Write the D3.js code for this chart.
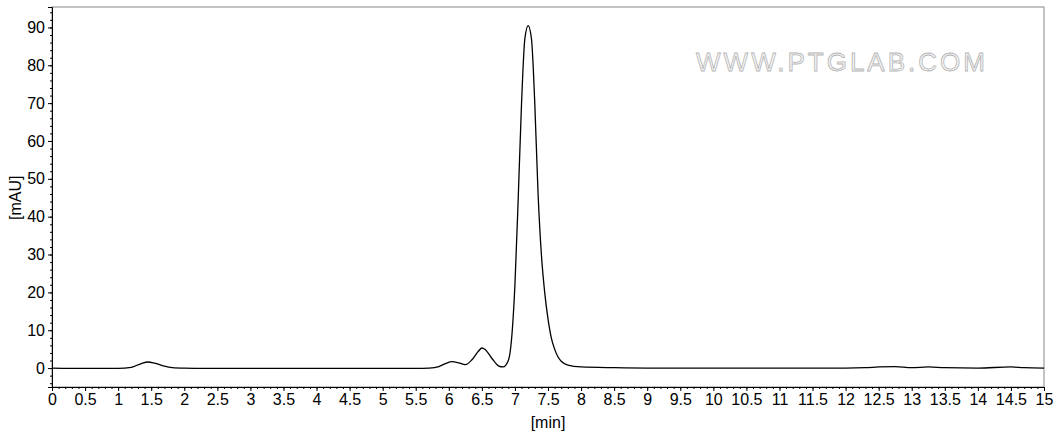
<!DOCTYPE html>
<html><head><meta charset="utf-8">
<script src="https://cdn.jsdelivr.net/npm/d3@7"></script>
<style>body{margin:0;background:#fff;font-family:"Liberation Sans",Arial,sans-serif;}</style>
</head><body>
<script>
// retention time [min] and signal [mAU]
const times = [0,0.5,1.0,1.2,1.35,1.45,1.55,1.7,1.85,2.0,2.5,3,4,5,5.5,5.7,5.85,5.95,6.05,6.15,6.25,6.35,6.45,6.5,6.55,6.65,6.75,6.82,6.9,6.96,7.0,7.05,7.1,7.15,7.2,7.25,7.3,7.35,7.4,7.45,7.5,7.55,7.6,7.65,7.7,7.8,8.0,8.5,9,10,11,12,12.3,12.5,12.75,13,13.25,13.5,14,14.5,14.7,15];
const signal = [0,-0.1,-0.1,0.2,1.2,1.6,1.3,0.5,0.05,0,-0.1,-0.1,-0.1,-0.1,-0.1,0,0.4,1.2,1.7,1.4,0.9,2.2,4.5,5.3,4.9,2.6,0.6,0.3,2,10,22,45,70,87,90.5,87,70,46,30,20,13,8,5,3,1.8,0.8,0.3,0.1,0,0,0,0,0.1,0.3,0.4,0.1,0.3,0.1,0,0.3,0.1,0];
const xTicks = d3.range(0, 15.01, 0.5);
const yTicks = [0,10,20,30,40,50,60,70,80,90];

const width = 1061, height = 438;
const margin = {left: 52, right: 17, top: 7, bottom: 51};

const svg = d3.select("body").append("svg").attr("width", width).attr("height", height)
  .attr("font-family", "Liberation Sans, Arial, sans-serif");

const x = d3.scaleLinear().domain([0, 15]).range([margin.left, width - margin.right]);
const y = d3.scaleLinear().domain([-5, 95.4]).range([height - margin.bottom, margin.top]);

// frame
svg.append("rect").attr("x", margin.left).attr("y", margin.top)
  .attr("width", width - margin.right - margin.left).attr("height", height - margin.bottom - margin.top)
  .attr("fill", "none").attr("stroke", "#888").attr("stroke-width", 1);

// watermark
svg.append("text").attr("x", 842).attr("y", 71).attr("text-anchor", "middle")
  .attr("font-size", 26).attr("letter-spacing", 3)
  .attr("fill", "#f4f4f4").attr("stroke", "#b5b5b5").attr("stroke-width", 0.8)
  .text("WWW.PTGLAB.COM");

// x axis
svg.append("g").attr("transform", `translate(0,${height - margin.bottom})`)
  .call(d3.axisBottom(x).tickValues(xTicks).tickSize(4).tickFormat(d3.format("~g")))
  .call(g => g.selectAll("text").attr("font-size", 16).attr("fill", "#000"));
svg.append("g").attr("transform", `translate(0,${height - margin.bottom})`)
  .call(d3.axisBottom(x).tickValues(d3.range(0, 15.01, 0.1)).tickSize(2).tickFormat(""))
  .call(g => g.select(".domain").remove());

// y axis
svg.append("g").attr("transform", `translate(${margin.left},0)`)
  .call(d3.axisLeft(y).tickValues(yTicks).tickSize(4))
  .call(g => g.selectAll("text").attr("font-size", 16).attr("fill", "#000"));
svg.append("g").attr("transform", `translate(${margin.left},0)`)
  .call(d3.axisLeft(y).tickValues(d3.range(-4, 95, 2)).tickSize(2).tickFormat(""))
  .call(g => g.select(".domain").remove());

svg.append("text").attr("x", x(7.5)).attr("y", 428).attr("text-anchor", "middle")
  .attr("font-size", 16).text("[min]");
svg.append("text").attr("transform", `translate(21,${y(45)}) rotate(-90)`)
  .attr("text-anchor", "middle").attr("font-size", 16).text("[mAU]");

// trace
const pts = times.map((t, i) => [t, signal[i]]);
svg.append("path").datum(pts)
  .attr("fill", "none").attr("stroke", "#000").attr("stroke-width", 1.3)
  .attr("d", d3.line().x(d => x(d[0])).y(d => y(d[1])).curve(d3.curveMonotoneX));
</script>
</body></html>
